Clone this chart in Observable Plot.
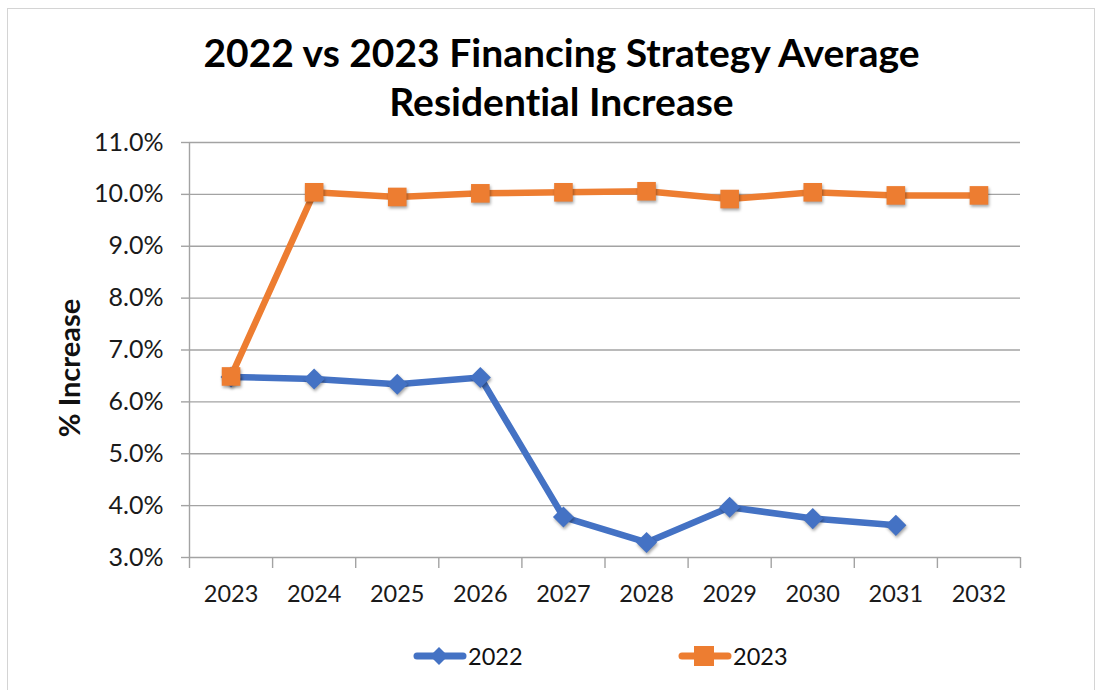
<!DOCTYPE html>
<html>
<head>
<meta charset="utf-8">
<script src="https://cdn.jsdelivr.net/npm/d3@7"></script>
<script src="https://cdn.jsdelivr.net/npm/@observablehq/plot@0.6"></script>
<style>
  html, body { margin: 0; padding: 0; background: #fff; }
  #wrap { position: relative; width: 1101px; height: 690px; overflow: hidden; font-family: Lato, "Open Sans", sans-serif; font-variant-ligatures: none; }
  #frame { position: absolute; left: 7px; top: 8px; width: 1088px; height: 700px; border: 1.5px solid #d4d4d4; box-sizing: border-box; }
  #title { position: absolute; left: 0; width: 1123px; top: 28px; text-align: center; font-weight: 700; font-size: 39px; line-height: 49px; color: #000; }
  #ylabel { position: absolute; left: 68px; top: 368px; transform: translate(-50%, -50%) rotate(-90deg); font-weight: 700; font-size: 29px; color: #111; white-space: nowrap; }
  #chart { position: absolute; left: 0; top: 120px; }
  #legend { position: absolute; left: 0; top: 638px; width: 1101px; height: 36px; }
  .leg { position: absolute; top: 0; display: flex; align-items: center; font-size: 23.5px; color: #111; }
  g[aria-label="dot"] path { filter: drop-shadow(1px 2px 1.5px rgba(0,0,0,0.35)); }
</style>
</head>
<body>
<div id="wrap">
  <div id="frame"></div>
  <div id="title">2022 vs 2023 Financing Strategy Average<br>Residential Increase</div>
  <div id="ylabel">% Increase</div>
  <div id="chart"></div>
  <div id="legend"></div>
</div>
<script>
// ---- data ----
const years = ["2023", "2024", "2025", "2026", "2027", "2028", "2029", "2030", "2031", "2032"];
const series2022 = [6.48, 6.44, 6.34, 6.47, 3.78, 3.29, 3.97, 3.75, 3.62];
const series2023 = [6.49, 10.04, 9.95, 10.02, 10.04, 10.06, 9.91, 10.04, 9.98, 9.98];
const yTicks = [3, 4, 5, 6, 7, 8, 9, 10, 11];
const seriesNames = ["2022", "2023"];
const colors = ["#4472C4", "#ED7D31"];

const d2022 = series2022.map((v, i) => ({i, v}));
const d2023 = series2023.map((v, i) => ({i, v}));
const boundaries = d3.range(years.length + 1).map(k => k - 0.5);
const centers = d3.range(years.length);

const axisGray = "#a3a3a3";

const plot = Plot.plot({
  width: 1101,
  height: 500,
  marginLeft: 189,
  marginRight: 81,
  marginTop: 22,
  marginBottom: 63,
  style: {fontFamily: "Lato, 'Open Sans', sans-serif", background: "transparent"},
  x: {type: "linear", domain: [-0.5, years.length - 0.5]},
  y: {domain: [3, 11]},
  marks: [
    Plot.gridY(yTicks, {stroke: axisGray, strokeOpacity: 1, strokeWidth: 1.4}),
    Plot.ruleX([-0.5], {y1: 3, y2: 11, stroke: axisGray, strokeWidth: 1.4}),
    Plot.axisY(yTicks, {tickSize: 8, tickPadding: 18, stroke: axisGray, strokeWidth: 1.4,
      tickFormat: d => d.toFixed(1) + "%", fontSize: 25, fill: "#1a1a1a", label: null}),
    Plot.axisX(boundaries, {tickSize: 11, stroke: axisGray, strokeWidth: 1.4, tickFormat: () => "", label: null}),
    Plot.axisX(centers, {tickSize: 0, tickPadding: 28, tickFormat: i => years[i], fontSize: 23.5, fill: "#1a1a1a", label: null}),
    Plot.line(d2022, {x: "i", y: "v", stroke: colors[0], strokeWidth: 6.5, strokeLinejoin: "round", strokeLinecap: "round"}),
    Plot.dot(d2022, {x: "i", y: "v", symbol: "diamond2", r: 9.5, fill: colors[0], stroke: null}),
    Plot.line(d2023, {x: "i", y: "v", stroke: colors[1], strokeWidth: 6.5, strokeLinejoin: "round", strokeLinecap: "round"}),
    Plot.dot(d2023, {x: "i", y: "v", symbol: "square", r: 10.5, fill: colors[1], stroke: null})
  ]
});
document.getElementById("chart").appendChild(plot);

// ---- legend ----
const legend = document.getElementById("legend");
const legPos = [413, 678];
seriesNames.forEach((name, k) => {
  const item = document.createElement("div");
  item.className = "leg";
  item.style.left = legPos[k] + "px";
  const marker = k === 0
    ? `<path d="M26,9 L35,18 L26,27 L17,18 Z" fill="${colors[0]}"/>`
    : `<rect x="16" y="8" width="20" height="20" fill="${colors[1]}"/>`;
  item.innerHTML = `<svg width="54" height="36"><line x1="4" y1="18" x2="50" y2="18" stroke="${colors[k]}" stroke-width="7" stroke-linecap="round"/>${marker}</svg><span style="margin-left:1px">${name}</span>`;
  legend.appendChild(item);
});
</script>
</body>
</html>
